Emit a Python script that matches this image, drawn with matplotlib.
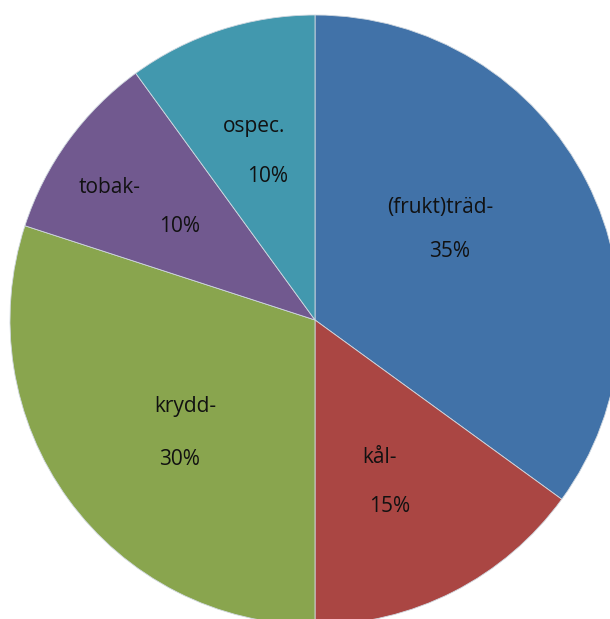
import numpy as np
import matplotlib.pyplot as plt

# andelar per kategori (medurs från kl 12)
names = ['(frukt)träd-', 'kål-', 'krydd-', 'tobak-', 'ospec.']
shares = [35, 15, 30, 10, 10]
colors = ['#4172A8', '#AA4643', '#89A54E', '#71598F', '#4298AE']

# etikettlägen i radie-enheter (namn, procent)
name_pos = [(0.41, 0.37), (0.213, -0.452), (-0.426, -0.285), (-0.672, 0.436), (-0.2, 0.633)]
pct_pos = [(0.44, 0.226), (0.246, -0.613), (-0.443, -0.456), (-0.443, 0.308), (-0.157, 0.472)]

W, H = 610, 619
cx, cy, R = 315, 320, 305

fig = plt.figure(figsize=(W / 100, H / 100), dpi=100)
ax = fig.add_axes([0, 0, 1, 1])

wedges, _ = ax.pie(shares, colors=colors, startangle=90, counterclock=False,
                   center=(cx, cy), radius=R, frame=True,
                   wedgeprops=dict(edgecolor='#d0d8e0', linewidth=0.6))

# y uppåt: mitten ska hamna cy px från överkanten
ax.set_xlim(0, W)
ax.set_ylim(2 * cy - H, 2 * cy)
ax.set_aspect('equal')
ax.axis('off')

for name, s, npos, ppos in zip(names, shares, name_pos, pct_pos):
    ax.text(cx + npos[0] * R, cy + npos[1] * R, name, ha='center', va='center',
            fontsize=15, family='Open Sans', color='#111111')
    ax.text(cx + ppos[0] * R, cy + ppos[1] * R, f'{s}%', ha='center', va='center',
            fontsize=15, family='Open Sans', color='#111111')

fig.savefig('out.png', dpi=100)
